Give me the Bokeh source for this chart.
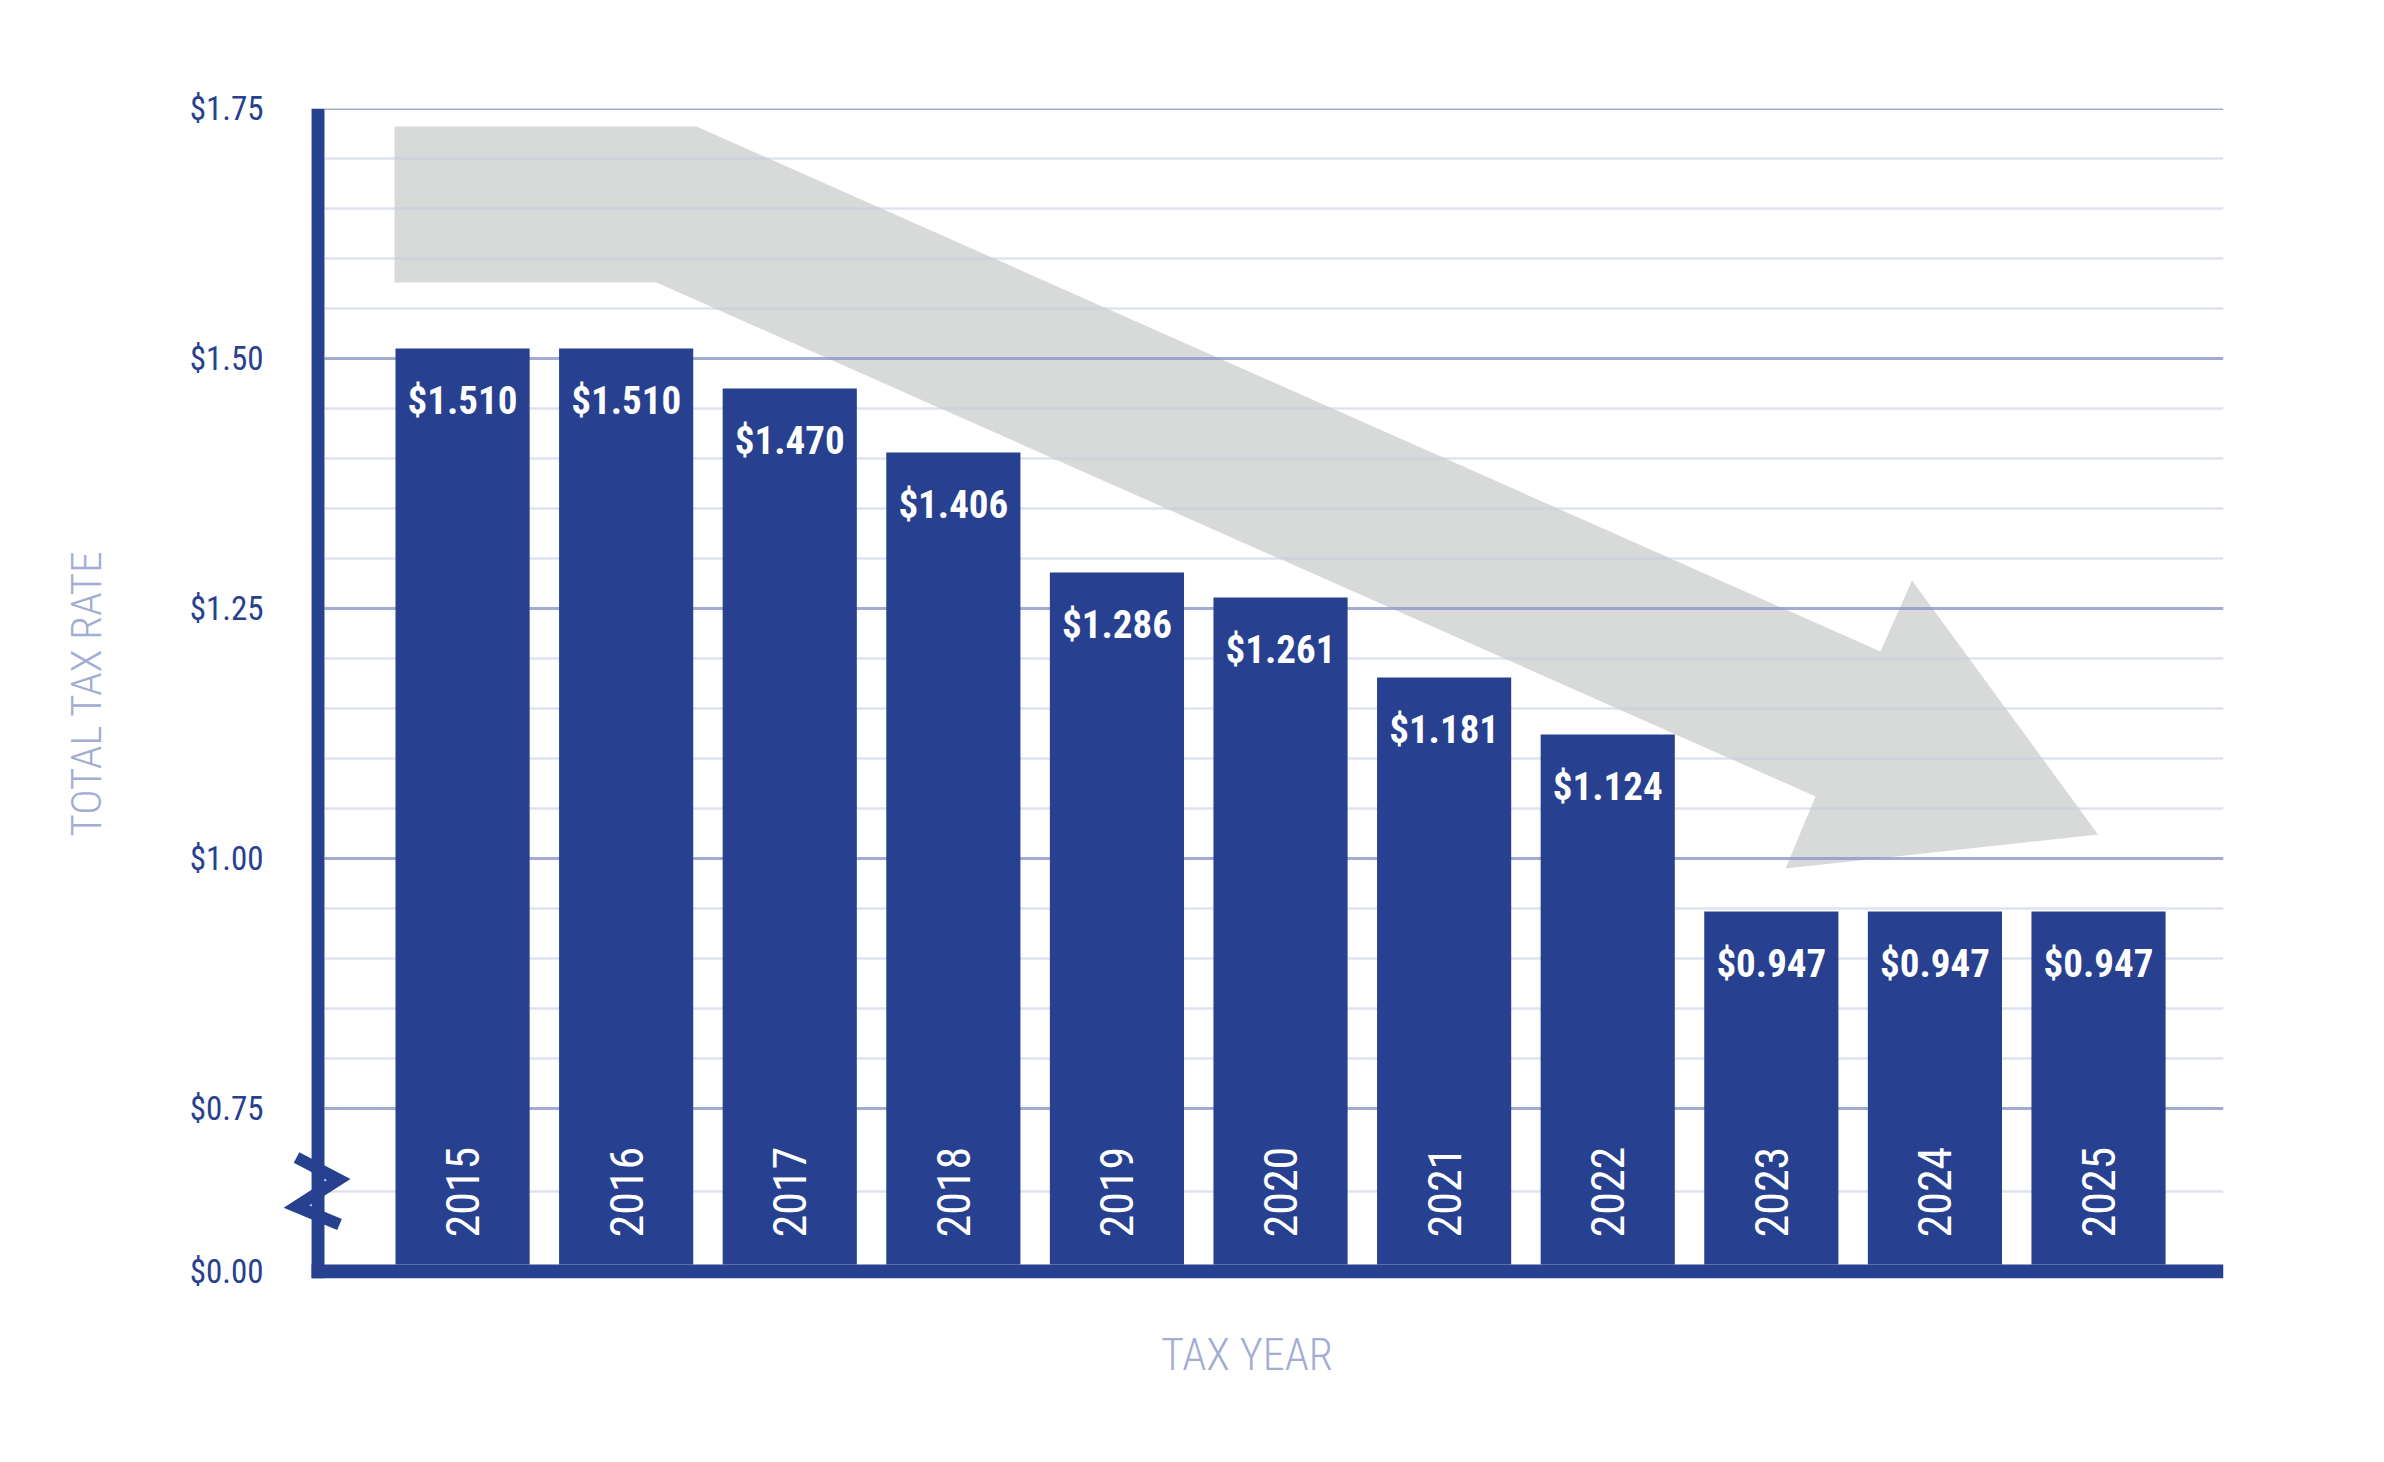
import numpy as np
from bokeh.plotting import figure
from bokeh.models import Range1d, FixedTicker, ColumnDataSource
from bokeh.core.properties import value
from bokeh.embed import file_html
from bokeh.resources import INLINE

# ---------------- data ----------------
years = ["2015", "2016", "2017", "2018", "2019", "2020", "2021", "2022", "2023", "2024", "2025"]
rates = [1.510, 1.510, 1.470, 1.406, 1.286, 1.261, 1.181, 1.124, 0.947, 0.947, 0.947]

# broken y axis: the bottom of the frame stands for $0.00
y_tick_values = [0.587, 0.75, 1.00, 1.25, 1.50, 1.75]
y_tick_labels = ["$0.00", "$0.75", "$1.00", "$1.25", "$1.50", "$1.75"]
major_grid = [0.75, 1.00, 1.25, 1.50, 1.75]
minor_grid = [0.667, 0.80, 0.85, 0.90, 0.95, 1.05, 1.10, 1.15, 1.20,
              1.30, 1.35, 1.40, 1.45, 1.55, 1.60, 1.65, 1.70]

# decorative downward-trend arrow (x in bar index units, y in rate units)
arrow_x = [-0.416, 1.430, 8.667, 8.860, 9.997, 8.087, 8.270, 1.186, -0.416]
arrow_y = [1.732, 1.732, 1.207, 1.278, 1.024, 0.990, 1.062, 1.576, 1.576]

# axis-break zigzag
break_x = [-1.015, -0.758, -1.015, -0.752]
break_y = [0.701, 0.679, 0.652, 0.634]

# ---------------- style / layout ----------------
BLUE = "#27408f"
TITLE_C = "#a3acd3"
NARROW = "'Liberation Sans Narrow', 'Roboto Condensed', 'DejaVu Sans Condensed', 'Liberation Sans'"
YEAR_FONT = "'Roboto Condensed', 'Liberation Sans Narrow', Roboto"
LIGHT = "'Roboto Condensed Light', 'Roboto Condensed', 'Roboto Light', Roboto"

X_START, X_END = -1.174, 10.764
Y_START, Y_END = 0.580, 1.75
BASE = 0.594
AXIS_L, AXIS_R = -0.923, -0.844

idx = np.arange(len(years))
src = ColumnDataSource(dict(
    x=idx,
    top=rates,
    label=["${:.3f}".format(r) for r in rates],
    label_y=[r - 0.052 for r in rates],
    year=years,
))

p = figure(width=2368, height=1446, output_backend="svg", toolbar_location=None,
           x_range=Range1d(X_START, X_END), y_range=Range1d(Y_START, Y_END),
           min_border_left=270, min_border_right=145, min_border_top=108,
           min_border_bottom=168)
p.outline_line_color = None
p.xgrid.visible = False
p.ygrid.visible = False
p.background_fill_color = "white"
p.border_fill_color = "white"

# arrow
p.patch(arrow_x, arrow_y, fill_color="#d8dada", line_color=None)

# grid lines
p.segment(x0=[AXIS_R] * len(minor_grid), x1=[X_END] * len(minor_grid),
          y0=minor_grid, y1=minor_grid, line_color="#c5cbe6", line_alpha=0.55, line_width=2.5)
p.segment(x0=[AXIS_R] * len(major_grid), x1=[X_END] * len(major_grid),
          y0=major_grid, y1=major_grid, line_color="#8d96c8", line_alpha=0.8, line_width=3)

# bars
p.vbar(x="x", top="top", bottom=BASE, width=0.82, source=src,
       fill_color=BLUE, line_color=None)

# value labels
p.text(x="x", y="label_y", text="label", source=src,
       text_align="center", text_baseline="middle", text_color="white",
       text_font=value(NARROW), text_font_style="bold", text_font_size="39px")

# year labels inside bars (rotated)
p.text(x="x", y=0.621, text="year", source=src, angle=np.pi / 2,
       text_align="left", text_baseline="middle", text_color="white",
       text_font=value(YEAR_FONT), text_font_size="46px")

# axis lines
p.quad(left=[AXIS_L], right=[AXIS_R], bottom=[Y_START], top=[Y_END],
       fill_color=BLUE, line_color=None)
p.quad(left=[AXIS_L], right=[X_END], bottom=[Y_START], top=[BASE],
       fill_color=BLUE, line_color=None)

# axis-break zigzag
p.line(break_x, break_y, line_color=BLUE, line_width=12, line_join="miter", line_cap="butt")

# y axis
p.yaxis.ticker = FixedTicker(ticks=y_tick_values)
p.yaxis.major_label_overrides = dict(zip(y_tick_values, y_tick_labels))
p.yaxis.axis_line_color = None
p.yaxis.major_tick_line_color = None
p.yaxis.minor_tick_line_color = None
p.yaxis.major_tick_out = 0
p.yaxis.major_tick_in = 0
p.yaxis.major_label_standoff = 7
p.yaxis.major_label_text_color = BLUE
p.yaxis.major_label_text_font = NARROW
p.yaxis.major_label_text_font_size = "33px"
p.yaxis.axis_label = "TOTAL TAX RATE"
p.yaxis.axis_label_text_font = LIGHT
p.yaxis.axis_label_text_font_style = "normal"
p.yaxis.axis_label_text_font_size = "43px"
p.yaxis.axis_label_text_color = TITLE_C
p.yaxis.axis_label_standoff = 76

# x axis (title only)
p.xaxis.ticker = FixedTicker(ticks=[])
p.xaxis.axis_line_color = None
p.xaxis.major_tick_line_color = None
p.xaxis.minor_tick_line_color = None
p.xaxis.major_tick_out = 0
p.xaxis.major_label_text_font_size = "0px"
p.xaxis.axis_label = "TAX YEAR"
p.xaxis.axis_label_text_font = LIGHT
p.xaxis.axis_label_text_font_style = "normal"
p.xaxis.axis_label_text_font_size = "44px"
p.xaxis.axis_label_text_color = TITLE_C
p.xaxis.axis_label_standoff = 50

open("out.html", "w").write(file_html(p, INLINE))
